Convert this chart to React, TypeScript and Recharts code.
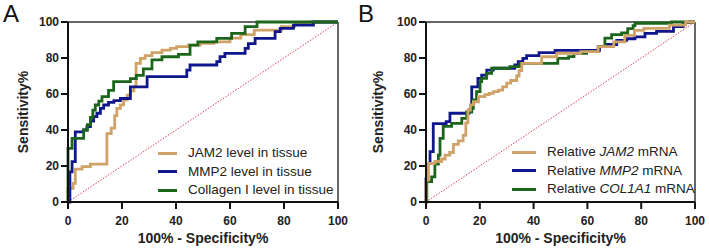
import {
  LineChart,
  Line,
  XAxis,
  YAxis,
  ReferenceLine,
  Legend,
} from "recharts";

// ROC points [100% - specificity, sensitivity]
const jam2Tissue = [
  [0, 0], [0, 7.6], [1.9, 10.4], [2.7, 18.3], [5.2, 19.6], [8.3, 21], [14.4, 38], [16, 41],
  [17.3, 48], [18.1, 52], [19.4, 54], [20.6, 56.7], [21.9, 59.4], [23.1, 61.7], [24.4, 64],
  [25.2, 77], [26.8, 79.8], [28.6, 81.3], [31.1, 83], [34.8, 84.4], [37.9, 85.4], [40.2, 86.3],
  [44.6, 87.2], [48.9, 88.1], [54, 89], [60, 91], [64, 93], [69, 95.5], [79, 97.4], [84, 98.7],
  [90, 100], [100, 100],
];
const mmp2Tissue = [
  [0, 0], [0.7, 16.7], [1.5, 22.4], [2.7, 39], [5.8, 40], [7, 41.9], [8.3, 45], [9.5, 47.4],
  [10.7, 49.3], [12, 52], [13.2, 53.9], [15, 55.4], [17, 56.3], [19.4, 57.5], [23.1, 64],
  [29.3, 69.6], [44, 73.3], [45.2, 76.1], [55.1, 78], [56.3, 80.8], [58.1, 82.6], [65.6, 85.4],
  [66.8, 88], [69.3, 90.9], [76.7, 94.6], [78.6, 96.5], [83.5, 98.3], [90.9, 100], [100, 100],
];
const collagenTissue = [
  [0, 0], [0, 29.8], [1.5, 35.4], [5.8, 40], [7.2, 43], [8.3, 47], [9.2, 51], [10.1, 53.9],
  [11.4, 56], [12.6, 58.5], [15, 62], [16.9, 66.9], [23.1, 68.5], [25.3, 70.4], [27.9, 74],
  [31.1, 79], [34.8, 80.7], [40.9, 82], [45.2, 87.2], [48.1, 89], [55.1, 90.9], [60.6, 93.7],
  [65.6, 97.4], [70, 100], [100, 100],
];

const jam2Mrna = [
  [0, 0], [0, 12.2], [0.9, 21.5], [3.3, 22.5], [5.8, 23.9], [7.1, 26], [8.8, 27.5], [10.2, 32],
  [12, 34], [13.8, 37], [14.8, 44], [15.6, 51], [16.5, 54], [17.6, 55.7], [19.5, 58.5],
  [21.9, 59.6], [23.5, 60.4], [25, 61.3], [26.9, 62.2], [28.5, 64], [30, 66], [31.5, 67.5],
  [33.7, 70], [34.6, 73], [35.6, 77], [43, 80.7], [48.6, 82.6], [57.5, 83.5], [64, 86.3],
  [69.8, 89], [73.9, 92.6], [77.5, 95.3], [81, 96.5], [90.5, 98.3], [96.5, 100], [100, 100],
];
const mmp2Mrna = [
  [0, 0], [0, 13], [0.3, 21.5], [1.5, 28], [2.7, 43.5], [7.5, 44.6], [8.9, 49.3], [16, 51.1],
  [17, 64], [19.3, 68.7], [20.7, 70.5], [22.6, 73.3], [25, 74.3], [33, 76.1], [34.3, 78],
  [36, 79.8], [37.4, 81.3], [42, 83], [48, 84.2], [64.5, 86.3], [67, 87.5], [70.9, 89.8],
  [74.6, 90.7], [77.7, 91.7], [81.4, 93.7], [85.7, 94.8], [92, 97.4], [95.6, 99.6], [98, 100],
  [100, 100],
];
const col1a1Mrna = [
  [0, 0], [0.3, 11.3], [2.1, 14], [3.3, 21], [4.6, 26], [5.2, 35.4], [6.4, 42], [9.5, 43.7],
  [13.3, 46.5], [15.1, 50], [17, 52], [17.6, 56.7], [18.8, 61.3], [20.1, 66.9], [20.7, 68.7],
  [22.5, 71.5], [24.4, 74.3], [31.2, 75.2], [35, 77], [49, 79.8], [53, 80.8], [55, 82.6],
  [59.7, 83.5], [64, 86.3], [66.5, 91], [69, 93], [72.7, 94], [75, 96.3], [77, 98],
  [77.7, 99.3], [91.3, 100], [100, 100],
];

const ticks = [0, 20, 40, 60, 80, 100];
const tissueNames = ["JAM2 level in tissue", "MMP2 level in tissue", "Collagen I level in tissue"];
const geneNames = ["JAM2", "MMP2", "COL1A1"];

const TAN = "#cfa267";
const BLUE = "#10168c";
const GREEN = "#1b661b";
const FONT = "'Liberation Sans', Arial, sans-serif";

const toRows = (pts: number[][]) => pts.map(([x, y]) => ({ x, y }));

const LegendBox = ({ items, lineLen }: { items: { color: string; label: any }[]; lineLen: number }) => (
  <div style={{ fontFamily: FONT, fontSize: 13.5, color: "#222", lineHeight: "18.5px" }}>
    {items.map((it, i) => (
      <div key={i} style={{ display: "flex", alignItems: "center", whiteSpace: "nowrap" }}>
        <span style={{ display: "inline-block", width: lineLen, height: 3, background: it.color, marginRight: 11 }} />
        {it.label}
      </div>
    ))}
  </div>
);

function RocPanel({
  letter,
  series,
  legend,
  yAxisWidth,
  rightMargin,
  legendLeft,
  legendTop,
  lineLen,
}: any) {
  const axisStyle = { stroke: "#111", strokeWidth: 2 };
  const tickStyle = { fontSize: 12, fontWeight: 700, fill: "#222", fontFamily: FONT };
  return (
    <div style={{ position: "relative", width: 354, height: 250 }}>
      <div
        style={{
          position: "absolute",
          left: 3,
          top: 2,
          fontFamily: FONT,
          fontSize: 24,
          lineHeight: "24px",
          color: "#111",
        }}
      >
        {letter}
      </div>
      <LineChart width={354} height={250} margin={{ top: 22, right: rightMargin, bottom: 2, left: 0 }}>
        <XAxis
          type="number"
          dataKey="x"
          domain={[0, 100]}
          ticks={ticks}
          height={46}
          tickSize={7}
          tickMargin={7}
          axisLine={axisStyle}
          tickLine={axisStyle}
          tick={tickStyle}
          label={{
            value: "100% - Specificity%",
            position: "insideBottom",
            offset: 5,
            style: { fontSize: 14, fontWeight: 700, fill: "#222", fontFamily: FONT },
          }}
        />
        <YAxis
          type="number"
          domain={[0, 100]}
          ticks={ticks}
          width={yAxisWidth}
          tickSize={7}
          tickMargin={2}
          axisLine={axisStyle}
          tickLine={axisStyle}
          tick={tickStyle}
          label={{
            value: "Sensitivity%",
            angle: -90,
            position: "insideLeft",
            offset: 23,
            style: { fontSize: 14, fontWeight: 700, fill: "#222", fontFamily: FONT, textAnchor: "middle" },
          }}
        />
        <ReferenceLine y={100} stroke="#333" strokeWidth={1.5} />
        <ReferenceLine x={100} stroke="#333" strokeWidth={1.5} />
        <ReferenceLine
          segment={[{ x: 0, y: 0 }, { x: 100, y: 100 }]}
          stroke="#e0405a"
          strokeWidth={1}
          strokeDasharray="1.5 1.5"
        />
        {series.map((s: any) => (
          <Line
            key={s.name}
            data={toRows(s.points)}
            dataKey="y"
            name={s.name}
            type="stepAfter"
            stroke={s.color}
            strokeWidth={2.8}
            dot={false}
            activeDot={false}
            isAnimationActive={false}
          />
        ))}
        <Legend
          layout="vertical"
          align="center"
          verticalAlign="middle"
          wrapperStyle={{ left: legendLeft, top: legendTop, width: 200 }}
          content={() => <LegendBox items={legend} lineLen={lineLen} />}
        />
      </LineChart>
    </div>
  );
}

export default function App() {
  const seriesA = [
    { name: tissueNames[0], points: jam2Tissue, color: TAN },
    { name: tissueNames[1], points: mmp2Tissue, color: BLUE },
    { name: tissueNames[2], points: collagenTissue, color: GREEN },
  ];
  const seriesB = [
    { name: geneNames[1], points: mmp2Mrna, color: BLUE },
    { name: geneNames[2], points: col1a1Mrna, color: GREEN },
    { name: geneNames[0], points: jam2Mrna, color: TAN },
  ];
  const legendA = seriesA.map((s) => ({ color: s.color, label: s.name }));
  const legendB = [TAN, BLUE, GREEN].map((color, i) => ({
    color,
    label: (
      <span>
        Relative <i>{geneNames[i]}</i> mRNA
      </span>
    ),
  }));

  return (
    <div style={{ position: "absolute", left: 0, top: 0, width: 709, height: 250, display: "flex", background: "#fff" }}>
      <RocPanel
        letter="A"
        series={seriesA}
        legend={legendA}
        yAxisWidth={68}
        rightMargin={16}
        legendLeft={158}
        legendTop={144}
        lineLen={19}
      />
      <div style={{ width: 1 }} />
      <RocPanel
        letter="B"
        series={seriesB}
        legend={legendB}
        yAxisWidth={71}
        rightMargin={14}
        legendLeft={157}
        legendTop={143}
        lineLen={24}
      />
    </div>
  );
}
